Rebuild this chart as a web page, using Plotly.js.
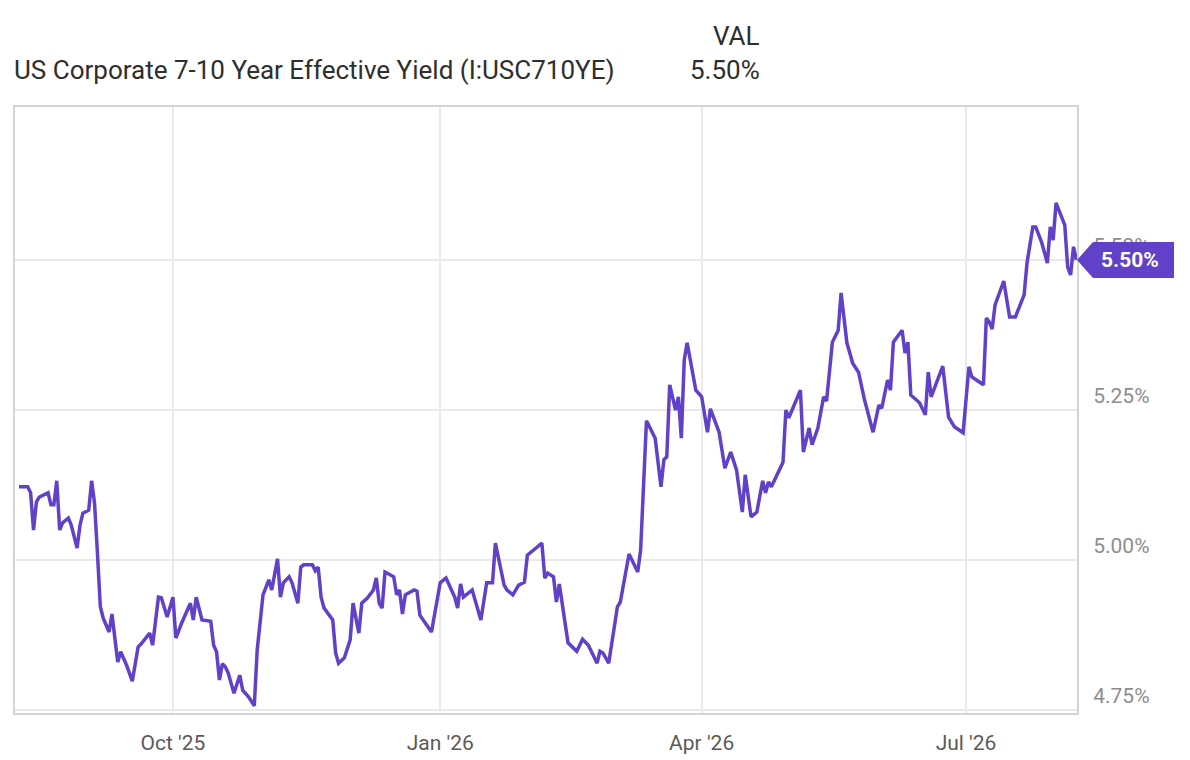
<!DOCTYPE html>
<html>
<head>
<meta charset="utf-8">
<script src="https://cdn.plot.ly/plotly-3.0.1.min.js"></script>
<style>
  html, body { margin: 0; padding: 0; background: #ffffff; }
  #chart { width: 1190px; height: 760px; }
</style>
</head>
<body>
<div id="chart"></div>
<script>
// ---- Data ----
const seriesName = "US Corporate 7-10 Year Effective Yield (I:USC710YE)";

const dates = [
  "2025-08-09","2025-08-12","2025-08-13","2025-08-14","2025-08-15","2025-08-16","2025-08-19","2025-08-20","2025-08-21","2025-08-22",
  "2025-08-23","2025-08-24","2025-08-26","2025-08-27","2025-08-29","2025-08-30","2025-08-31","2025-09-02","2025-09-03","2025-09-04",
  "2025-09-05","2025-09-06","2025-09-07","2025-09-09","2025-09-10","2025-09-11","2025-09-12","2025-09-13","2025-09-15","2025-09-17",
  "2025-09-19","2025-09-20","2025-09-22","2025-09-23","2025-09-24","2025-09-26","2025-09-27","2025-09-29","2025-10-01","2025-10-02",
  "2025-10-04","2025-10-07","2025-10-08","2025-10-09","2025-10-11","2025-10-14","2025-10-15","2025-10-16","2025-10-17","2025-10-18",
  "2025-10-19","2025-10-20","2025-10-22","2025-10-24","2025-10-25","2025-10-27","2025-10-29","2025-10-30","2025-11-01","2025-11-02",
  "2025-11-03","2025-11-04","2025-11-06","2025-11-07","2025-11-08","2025-11-10","2025-11-11","2025-11-13","2025-11-14","2025-11-15",
  "2025-11-18","2025-11-19","2025-11-20","2025-11-21","2025-11-22","2025-11-25","2025-11-26","2025-11-27","2025-11-29","2025-12-01",
  "2025-12-02","2025-12-04","2025-12-05","2025-12-07","2025-12-09","2025-12-10","2025-12-11","2025-12-12","2025-12-13","2025-12-16",
  "2025-12-17","2025-12-18","2025-12-19","2025-12-20","2025-12-23","2025-12-24","2025-12-25","2025-12-29","2026-01-01","2026-01-03",
  "2026-01-06","2026-01-07","2026-01-08","2026-01-09","2026-01-12","2026-01-15","2026-01-17","2026-01-19","2026-01-20","2026-01-23",
  "2026-01-24","2026-01-26","2026-01-28","2026-01-30","2026-01-31","2026-02-03","2026-02-05","2026-02-06","2026-02-07","2026-02-09",
  "2026-02-10","2026-02-11","2026-02-12","2026-02-14","2026-02-17","2026-02-19","2026-02-21","2026-02-24","2026-02-25","2026-02-26",
  "2026-02-28","2026-03-03","2026-03-04","2026-03-07","2026-03-10","2026-03-11","2026-03-13","2026-03-16","2026-03-18","2026-03-19",
  "2026-03-20","2026-03-21","2026-03-23","2026-03-24","2026-03-25","2026-03-26","2026-03-27","2026-03-30","2026-04-01","2026-04-03",
  "2026-04-04","2026-04-07","2026-04-09","2026-04-11","2026-04-13","2026-04-15","2026-04-16","2026-04-18","2026-04-20","2026-04-22",
  "2026-04-23","2026-04-24","2026-04-25","2026-04-29","2026-04-30","2026-05-01","2026-05-05","2026-05-06","2026-05-08","2026-05-09",
  "2026-05-11","2026-05-13","2026-05-14","2026-05-16","2026-05-18","2026-05-19","2026-05-21","2026-05-23","2026-05-25","2026-05-27",
  "2026-05-30","2026-06-01","2026-06-02","2026-06-04","2026-06-05","2026-06-06","2026-06-09","2026-06-10","2026-06-11","2026-06-12",
  "2026-06-15","2026-06-17","2026-06-18","2026-06-19","2026-06-23","2026-06-25","2026-06-27","2026-06-30","2026-07-02","2026-07-03",
  "2026-07-07","2026-07-08","2026-07-09","2026-07-10","2026-07-11","2026-07-14","2026-07-16","2026-07-18","2026-07-21","2026-07-22",
  "2026-07-24","2026-07-25","2026-07-27","2026-07-29","2026-07-30","2026-07-31","2026-08-01","2026-08-04","2026-08-05","2026-08-06",
  "2026-08-07","2026-08-08"
];

const yields = [
  5.122,5.122,5.112,5.050,5.097,5.105,5.112,5.092,5.092,5.132,
  5.050,5.062,5.070,5.058,5.020,5.058,5.078,5.083,5.132,5.095,
  5.012,4.922,4.903,4.880,4.910,4.867,4.830,4.847,4.825,4.798,
  4.855,4.860,4.872,4.878,4.858,4.938,4.937,4.905,4.938,4.870,
  4.895,4.928,4.900,4.938,4.900,4.898,4.858,4.847,4.800,4.827,
  4.822,4.812,4.778,4.808,4.783,4.772,4.757,4.850,4.942,4.955,
  4.967,4.950,5.002,4.938,4.962,4.972,4.962,4.928,4.988,4.992,
  4.992,4.982,4.988,4.938,4.920,4.900,4.845,4.828,4.837,4.867,
  4.928,4.878,4.928,4.937,4.950,4.970,4.928,4.920,4.980,4.972,
  4.942,4.950,4.910,4.942,4.950,4.948,4.908,4.880,4.962,4.970,
  4.938,4.920,4.960,4.938,4.950,4.900,4.962,4.962,5.028,4.958,
  4.950,4.942,4.958,4.963,5.008,5.020,5.028,4.970,4.978,4.972,
  4.930,4.960,4.928,4.862,4.848,4.868,4.858,4.828,4.848,4.845,
  4.828,4.922,4.930,5.010,4.980,5.017,5.232,5.203,5.122,5.167,
  5.172,5.292,5.250,5.272,5.203,5.333,5.362,5.283,5.272,5.213,
  5.252,5.213,5.153,5.180,5.150,5.080,5.142,5.072,5.080,5.132,
  5.112,5.130,5.122,5.163,5.250,5.237,5.283,5.180,5.220,5.192,
  5.220,5.272,5.265,5.363,5.383,5.445,5.362,5.328,5.313,5.268,
  5.213,5.258,5.253,5.300,5.283,5.363,5.383,5.345,5.363,5.275,
  5.262,5.242,5.313,5.272,5.323,5.238,5.222,5.212,5.322,5.305,
  5.292,5.403,5.397,5.385,5.425,5.465,5.405,5.405,5.442,5.495,
  5.555,5.555,5.530,5.495,5.555,5.533,5.595,5.558,5.488,5.475,
  5.522,5.500
];

const xTickVals = ["2025-10-01","2026-01-01","2026-04-01","2026-07-01"];
const xTickText = ["Oct '25","Jan '26","Apr '26","Jul '26"];
const yTickVals = [4.75, 5.00, 5.25, 5.50];
const yTickText = ["4.75%","5.00%","5.25%","5.50%"];

// ---- Styling ----
const purple = "#6041c7";
const font = "Roboto, 'Open Sans', sans-serif";
const lastVal = yields[yields.length - 1];
const lastLabel = lastVal.toFixed(2) + "%";

const trace = {
  x: dates,
  y: yields,
  type: "scatter",
  mode: "lines",
  line: { color: purple, width: 3.5 },
  hoverinfo: "x+y",
  showlegend: false
};

const layout = {
  width: 1190,
  height: 760,
  margin: { l: 15, r: 113, t: 107, b: 47 },
  paper_bgcolor: "#ffffff",
  plot_bgcolor: "#ffffff",
  font: { family: font },
  xaxis: {
    type: "date",
    range: ["2025-08-07 15:00", "2026-08-08 05:00"],
    tickmode: "array",
    tickvals: xTickVals,
    ticktext: xTickText,
    showgrid: true,
    gridcolor: "#e9e9e9",
    gridwidth: 2,
    zeroline: false,
    showline: true,
    linecolor: "#d4d4d4",
    linewidth: 2,
    mirror: true,
    ticks: "outside",
    ticklen: 10,
    tickcolor: "rgba(0,0,0,0)",
    tickfont: { family: font, size: 21, color: "#5a5a5a" }
  },
  yaxis: {
    side: "right",
    range: [4.745, 5.755],
    tickmode: "array",
    tickvals: yTickVals,
    ticktext: yTickText,
    showgrid: true,
    gridcolor: "#e9e9e9",
    gridwidth: 2,
    zeroline: false,
    showline: true,
    linecolor: "#d4d4d4",
    linewidth: 2,
    mirror: true,
    ticks: "",
    ticklabelposition: "outside top",
    ticklabelstandoff: 10,
    tickfont: { family: font, size: 21, color: "#8d8d8d" }
  },
  shapes: [
    {
      type: "path",
      xref: "paper",
      yref: "y",
      xsizemode: "pixel",
      ysizemode: "pixel",
      xanchor: 1,
      yanchor: lastVal,
      path: "M0,0 L16,18 L97,18 L97,-18 L16,-18 Z",
      fillcolor: purple,
      line: { width: 0 },
      layer: "above"
    }
  ],
  annotations: [
    {
      text: seriesName,
      xref: "paper", yref: "paper",
      x: -0.003, y: 1.061,
      xanchor: "left", yanchor: "middle",
      showarrow: false,
      font: { family: font, size: 26, color: "#2e2e2e" }
    },
    {
      text: "VAL",
      xref: "paper", yref: "paper",
      x: 0.7034, y: 1.117,
      xanchor: "right", yanchor: "middle",
      showarrow: false,
      font: { family: font, size: 26, color: "#2e2e2e" }
    },
    {
      text: lastLabel,
      xref: "paper", yref: "paper",
      x: 0.7034, y: 1.061,
      xanchor: "right", yanchor: "middle",
      showarrow: false,
      font: { family: font, size: 26, color: "#2e2e2e" }
    },
    {
      text: "<b>" + lastLabel + "</b>",
      xref: "paper", yref: "y",
      x: 1.0495, y: lastVal,
      xanchor: "center", yanchor: "middle",
      showarrow: false,
      font: { family: font, size: 21, color: "#ffffff" }
    }
  ]
};

Plotly.newPlot("chart", [trace], layout, { displayModeBar: false, staticPlot: true });
</script>
</body>
</html>
